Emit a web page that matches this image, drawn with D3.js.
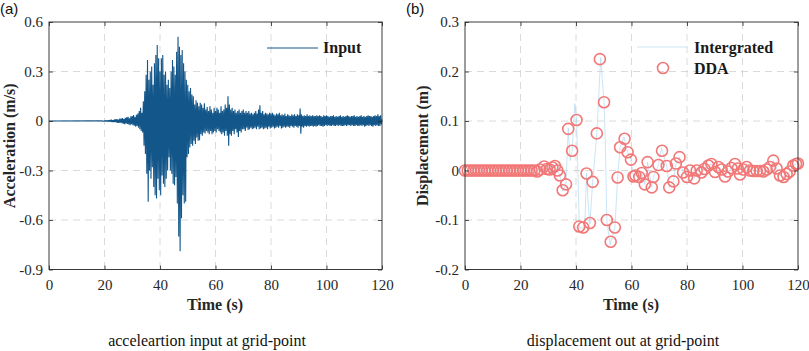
<!DOCTYPE html>
<html>
<head>
<meta charset="utf-8">
<script src="https://cdn.jsdelivr.net/npm/d3@7"></script>
<style>
    body { margin: 0; background: #fff; }
    svg { display: block; font-family: "Liberation Serif", "Times New Roman", serif; }
    .axis-title { font-size: 16px; font-weight: bold; fill: #262626; }
    .legend-text { font-size: 16px; font-weight: bold; fill: #1a1a1a; }
    .caption { font-size: 16px; fill: #111; }
    .panel-tag { font-family: "Liberation Sans", Arial, sans-serif; font-size: 15px; fill: #111; }
</style>
</head>
<body>
<div id="wrapper"></div>
<script>

// ---- data ----
const timeTicks = [0, 20, 40, 60, 80, 100, 120]
const accelTicks = [-0.9, -0.6, -0.3, 0, 0.3, 0.6]
const dispTicks = [-0.2, -0.1, 0, 0.1, 0.2, 0.3]

// acceleration record: flat until 18 s, then one sample every 0.25 s
const accelStart = 18
const accelStep = 0.25
const accelValues = [
    0.001, -0.001, 0.002, -0.001, 0.002, -0.002, 0.001, -0.002,
    0.003, -0.002, 0.004, -0.003, 0.003, -0.004, 0.005, -0.003,
    0.006, -0.005, 0.008, -0.006, 0.005, -0.007, 0.009, -0.006,
    0.01, -0.008, 0.012, -0.011, 0.009, -0.012, 0.014, -0.01,
    0.015, -0.013, 0.018, -0.016, 0.012, -0.019, 0.02, -0.015,
    0.022, -0.018, 0.025, -0.021, 0.017, -0.026, 0.028, -0.02,
    0.03, -0.025, 0.036, -0.028, 0.024, -0.034, 0.038, -0.03,
    0.045, -0.04, 0.06, -0.05,
    0.08, -0.06, 0.05, -0.07,
    0.12, -0.15, 0.18, -0.2,
    0.28, -0.32, 0.37, -0.49,
    0.25, -0.3, 0.3, -0.35,
    0.33, -0.28, 0.22, -0.4,
    0.35, -0.45, 0.4, -0.47,
    0.46, -0.35, 0.38, -0.42,
    0.3, -0.45, 0.38, -0.33,
    0.4, -0.38, 0.28, -0.4,
    0.3, -0.35, 0.22, -0.3,
    0.25, -0.22, 0.2, -0.3,
    0.3, -0.32, 0.37, -0.38,
    0.33, -0.39, 0.28, -0.34,
    0.42, -0.5, 0.51, -0.7,
    0.45, -0.79, 0.4, -0.59,
    0.43, -0.45, 0.35, -0.5,
    0.3, -0.49, 0.25, -0.22,
    0.22, -0.2, 0.18, -0.16,
    0.2, -0.14, 0.16, -0.15,
    0.15, -0.12, 0.1, -0.14,
    0.125, -0.1, 0.11, -0.12,
    0.09, -0.117, 0.11, -0.08,
    0.1, -0.09, 0.08, -0.07,
    0.107, -0.075, 0.07, -0.06,
    0.085, -0.07, 0.06, -0.08,
    0.09, -0.06, 0.07, -0.08, 0.05, -0.07, 0.08, -0.06,
    0.06, -0.07, 0.08, -0.05, 0.07, -0.06, 0.05, -0.07,
    0.09, -0.08, 0.06, -0.07, 0.07, -0.09, 0.1, -0.06,
    0.08, -0.09, 0.15, -0.15, 0.1, -0.08, 0.07, -0.09,
    0.08, -0.06, 0.06, -0.08, 0.07, -0.05, 0.05, -0.07,
    0.06, -0.097, 0.07, -0.06, 0.05, -0.07, 0.06, -0.05,
    0.07, -0.05, 0.05, -0.06, 0.06, -0.04, 0.05, -0.055,
    0.06, -0.05, 0.045, -0.04, 0.05, -0.05, 0.04, -0.045,
    0.05, -0.04, 0.06, -0.05, 0.045, -0.035, 0.07, -0.05,
    0.095, -0.045, 0.05, -0.04, 0.06, -0.05, 0.04, -0.045,
    0.05, -0.04, 0.045, -0.05, 0.04, -0.035, 0.05, -0.045,
    0.045, -0.04, 0.05, -0.035, 0.04, -0.045, 0.035, -0.04,
    0.045, -0.035, 0.04, -0.04, 0.05, -0.03, 0.035, -0.045,
    0.04, -0.04, 0.035, -0.035, 0.045, -0.04, 0.03, -0.035,
    0.04, -0.035, 0.035, -0.04, 0.03, -0.03, 0.04, -0.035,
    0.035, -0.04, 0.04, -0.03, 0.03, -0.035, 0.04, -0.04,
    0.035, -0.03, 0.075, -0.077, 0.04, -0.035, 0.03, -0.04,
    0.035, -0.03, 0.03, -0.035, 0.04, -0.03, 0.03, -0.035,
    0.035, -0.03, 0.03, -0.03, 0.035, -0.035, 0.03, -0.03,
    0.03, -0.035, 0.035, -0.03, 0.03, -0.025, 0.035, -0.03,
    0.03, -0.03, 0.025, -0.035, 0.035, -0.03, 0.03, -0.025,
    0.035, -0.03, 0.03, -0.025, 0.025, -0.03, 0.03, -0.03,
    0.03, -0.025, 0.035, -0.03, 0.025, -0.03, 0.03, -0.025,
    0.025, -0.03, 0.03, -0.025, 0.035, -0.03, 0.025, -0.03,
    0.03, -0.03, 0.025, -0.025, 0.03, -0.03, 0.035, -0.025,
    0.03, -0.025, 0.025, -0.03, 0.03, -0.025, 0.03, -0.03,
    0.035, -0.03, 0.025, -0.025, 0.03, -0.03, 0.025, -0.03,
    0.03, -0.025, 0.035, -0.03, 0.025, -0.025, 0.03, -0.035,
    0.025, -0.03, 0.03, -0.025, 0.035, -0.03, 0.03, -0.025,
    0.03, -0.03, 0.025, -0.035, 0.03, -0.025, 0.035, -0.03,
    0.03, -0.025, 0.04, -0.03, 0.03, -0.03, 0.035, -0.02,
    0.01
]

// integrated displacement [time s, displacement m]
const integratedPoints = [
    [0, 0], [26, 0], [27, 0.002], [28.5, 0.008], [29.5, 0.003], [30.5, 0.002], [31.5, 0.006],
    [32.4, 0.009], [33.3, 0], [34.2, -0.01], [35.2, -0.042], [36.4, -0.028], [37.2, 0.086],
    [37.9, 0.02], [38.6, 0.04], [39.6, 0.135], [40.2, 0.102], [41.2, -0.115], [42.6, -0.117],
    [43.3, -0.09], [43.8, -0.006], [44.4, -0.07], [45, -0.108], [46, -0.023], [47.5, 0.075],
    [48.9, 0.228], [50.1, 0.138], [50.6, 0.05], [51.1, -0.1], [52.3, -0.15], [54, -0.117],
    [55, -0.014], [55.9, 0.047], [57.3, 0.068], [58.6, 0.037], [59.8, 0.022], [60.7, -0.012],
    [61.4, -0.01], [62.8, -0.013], [63.7, -0.005], [64.8, -0.028], [65.8, 0.017], [67.3, -0.034],
    [67.9, -0.013], [69.7, 0.011], [70.8, 0.045], [72.7, 0.009], [73.6, -0.034], [75.1, -0.022],
    [76, 0.014], [77.3, 0.027], [78.6, -0.004], [80, -0.013], [81.1, 0], [82.6, -0.016],
    [83.5, 0], [85.2, -0.004], [86.3, 0.003], [87.7, 0.01], [88.8, 0.013], [90.1, -0.003],
    [91.3, 0.007], [92.5, 0.002], [93.7, -0.012], [94.8, -0.002], [96, 0.005], [97.3, 0.013],
    [98.3, 0.004], [99.1, -0.008], [100.3, 0.002], [101.5, 0.007], [102.7, 0], [105, -0.001],
    [107.5, -0.002], [108.7, 0.002], [109.9, 0.007], [111.1, 0.02], [112.3, 0.004],
    [113.5, -0.01], [114.8, -0.013], [115.9, -0.007], [117, -0.002], [118.3, 0.01],
    [119.3, 0.013], [120, 0.014]
]

// DDA output [time s, displacement m]
const ddaPoints = [
    [0, 0], [1, 0], [2, 0], [3, 0], [4, 0], [5, 0], [6, 0], [7, 0], [8, 0], [9, 0], [10, 0],
    [11, 0], [12, 0], [13, 0], [14, 0], [15, 0], [16, 0], [17, 0], [18, 0], [19, 0], [20, 0],
    [21, 0], [22, 0], [23, 0], [24, 0], [25, 0],
    [26, -0.002], [27, 0.002], [28.5, 0.008], [29.5, 0.003], [30.5, 0.002], [31.5, 0.006],
    [32.4, 0.009], [33.3, 0], [34.2, -0.01], [35.2, -0.04], [36.4, -0.028], [37.2, 0.084],
    [38.6, 0.04], [40.2, 0.102], [41.2, -0.113], [42.6, -0.115], [43.8, -0.006], [45, -0.106],
    [46, -0.023], [47.5, 0.075], [48.6, 0.225], [50.1, 0.138], [51.1, -0.1], [52.5, -0.144],
    [54, -0.115], [55, -0.014], [55.9, 0.047], [57.5, 0.064], [58.6, 0.037], [59.8, 0.022],
    [60.7, -0.012], [61.4, -0.01], [62.8, -0.013], [63.7, -0.005], [64.8, -0.028], [65.8, 0.017],
    [67.3, -0.034], [67.9, -0.013], [69.7, 0.011], [71, 0.04], [72.7, 0.009], [73.6, -0.034],
    [75.1, -0.022], [76, 0.014], [77.3, 0.027], [78.6, -0.004], [80, -0.013], [81.1, 0],
    [82.6, -0.016], [83.5, 0], [85.2, -0.004], [86.3, 0.003], [87.7, 0.01], [88.8, 0.013],
    [90.1, -0.003], [91.3, 0.007], [92.5, 0.002], [93.7, -0.012], [94.8, -0.002], [96, 0.005],
    [97.3, 0.013], [98.3, 0.004], [99.1, -0.008], [100.3, 0.002], [101.5, 0.007], [102.7, 0],
    [103.9, -0.001], [105.1, -0.001], [106.3, -0.001], [107.5, -0.002], [108.7, 0.002],
    [109.9, 0.007], [111.1, 0.02], [112.3, 0.004], [113.5, -0.01], [114.8, -0.013],
    [115.9, -0.007], [117, -0.002], [118.3, 0.01], [119.3, 0.013], [120, 0.014]
]

function drawChart() {

    // 1. Dimensions
    const dimensions = { width: 809, height: 351 }
    const panelA = { left: 49, right: 382, top: 22, bottom: 269.5, yDomain: [-0.9, 0.6], yTicks: accelTicks }
    const panelB = { left: 465, right: 798, top: 22, bottom: 269.5, yDomain: [-0.2, 0.3], yTicks: dispTicks }

    // 2. Canvas
    const svg = d3.select("#wrapper")
        .append("svg")
        .attr("width", dimensions.width)
        .attr("height", dimensions.height)

    // 3. Panels
    const a = drawFrame(svg, panelA)
    const b = drawFrame(svg, panelB)

    // 4. Data - panel (a)
    const accelSeries = [[0, 0]].concat(accelValues.map((v, i) => [accelStart + i * accelStep, v]))
    a.plot.append("path")
        .datum(accelSeries)
        .attr("fill", "none")
        .attr("stroke", "#135689")
        .attr("stroke-width", 1.1)
        .attr("stroke-linejoin", "bevel")
        .attr("d", d3.line().x(d => a.x(d[0])).y(d => a.y(d[1])))

    // 4. Data - panel (b)
    b.plot.append("path")
        .datum(integratedPoints)
        .attr("fill", "none")
        .attr("stroke", "#9fd0ee")
        .attr("stroke-opacity", 0.8)
        .attr("stroke-width", 0.7)
        .attr("d", d3.line().x(d => b.x(d[0])).y(d => b.y(d[1])))

    b.plot.selectAll("circle")
        .data(ddaPoints)
        .join("circle")
        .attr("cx", d => b.x(d[0]))
        .attr("cy", d => b.y(d[1]))
        .attr("r", 5.5)
        .attr("fill", "none")
        .attr("stroke", "#f27878")
        .attr("stroke-width", 1.6)

    // 5. Peripherals
    svg.append("text").attr("class", "panel-tag").attr("x", 0).attr("y", 14).text("(a)")
    svg.append("text").attr("class", "panel-tag").attr("x", 406).attr("y", 14).text("(b)")

    svg.append("text").attr("class", "axis-title")
        .attr("text-anchor", "middle")
        .attr("transform", `translate(15, ${(panelA.top + panelA.bottom) / 2}) rotate(-90)`)
        .text("Acceleration (m/s)")
    svg.append("text").attr("class", "axis-title")
        .attr("text-anchor", "middle")
        .attr("transform", `translate(428, ${(panelB.top + panelB.bottom) / 2}) rotate(-90)`)
        .text("Displacement (m)")

    svg.append("text").attr("class", "axis-title").attr("text-anchor", "middle")
        .attr("x", 215).attr("y", 310).text("Time (s)")
    svg.append("text").attr("class", "axis-title").attr("text-anchor", "middle")
        .attr("x", 631).attr("y", 310).text("Time (s)")

    svg.append("text").attr("class", "caption").attr("text-anchor", "middle")
        .attr("x", 207).attr("y", 346).text("acceleartion input at grid-point")
    svg.append("text").attr("class", "caption").attr("text-anchor", "middle")
        .attr("x", 623).attr("y", 346).text("displacement out at grid-point")

    // legends
    svg.append("line").attr("x1", 267).attr("x2", 318).attr("y1", 48).attr("y2", 48)
        .attr("stroke", "#135689").attr("stroke-width", 1)
    svg.append("text").attr("class", "legend-text").attr("x", 323).attr("y", 53).text("Input")

    svg.append("line").attr("x1", 637).attr("x2", 687).attr("y1", 47).attr("y2", 47)
        .attr("stroke", "#9fd0ee").attr("stroke-opacity", 0.8).attr("stroke-width", 0.7)
    svg.append("text").attr("class", "legend-text").attr("x", 694).attr("y", 53).text("Intergrated")
    svg.append("circle").attr("cx", 663).attr("cy", 68).attr("r", 5.5)
        .attr("fill", "none").attr("stroke", "#f27878").attr("stroke-width", 1.6)
    svg.append("text").attr("class", "legend-text").attr("x", 694).attr("y", 74).text("DDA")
}

function drawFrame(svg, cfg) {
    const x = d3.scaleLinear().domain([0, 120]).range([cfg.left, cfg.right])
    const y = d3.scaleLinear().domain(cfg.yDomain).range([cfg.bottom, cfg.top])

    // dashed grid
    const grid = svg.append("g")
        .attr("stroke", "#d6d6d6")
        .attr("stroke-width", 0.9)
        .attr("stroke-dasharray", "7,5")
    grid.selectAll(".gx").data(timeTicks.slice(1, -1)).join("line").attr("class", "gx")
        .attr("x1", d => x(d)).attr("x2", d => x(d))
        .attr("y1", cfg.top).attr("y2", cfg.bottom)
    grid.selectAll(".gy").data(cfg.yTicks.slice(1, -1)).join("line").attr("class", "gy")
        .attr("x1", cfg.left).attr("x2", cfg.right)
        .attr("y1", d => y(d)).attr("y2", d => y(d))

    const plot = svg.append("g")

    // axes, MATLAB style ticks pointing in
    const fmt = d => String(+d.toFixed(1))
    const axes = svg.append("g")
    axes.append("g").attr("transform", `translate(0, ${cfg.bottom})`)
        .call(d3.axisBottom(x).tickValues(timeTicks).tickSize(-4).tickSizeOuter(0).tickPadding(10).tickFormat(fmt))
    axes.append("g").attr("transform", `translate(0, ${cfg.top})`)
        .call(d3.axisTop(x).tickValues(timeTicks).tickSize(-4).tickSizeOuter(0).tickFormat(""))
    axes.append("g").attr("transform", `translate(${cfg.left}, 0)`)
        .call(d3.axisLeft(y).tickValues(cfg.yTicks).tickSize(-4).tickSizeOuter(0).tickPadding(6).tickFormat(fmt))
    axes.append("g").attr("transform", `translate(${cfg.right}, 0)`)
        .call(d3.axisRight(y).tickValues(cfg.yTicks).tickSize(-4).tickSizeOuter(0).tickFormat(""))
    axes.selectAll(".domain").remove()
    axes.selectAll("g").attr("font-family", null).attr("font-size", null)
    axes.selectAll(".tick line").attr("stroke", "#262626").attr("stroke-width", 0.8)
    axes.selectAll(".tick text")
        .attr("font-family", "'Liberation Serif', 'Times New Roman', serif")
        .attr("font-size", 15)
        .attr("fill", "#262626")

    svg.append("rect")
        .attr("x", cfg.left).attr("y", cfg.top)
        .attr("width", cfg.right - cfg.left).attr("height", cfg.bottom - cfg.top)
        .attr("fill", "none").attr("stroke", "#262626").attr("stroke-width", 0.9)

    return { x, y, plot }
}

drawChart()
</script>
</body>
</html>
